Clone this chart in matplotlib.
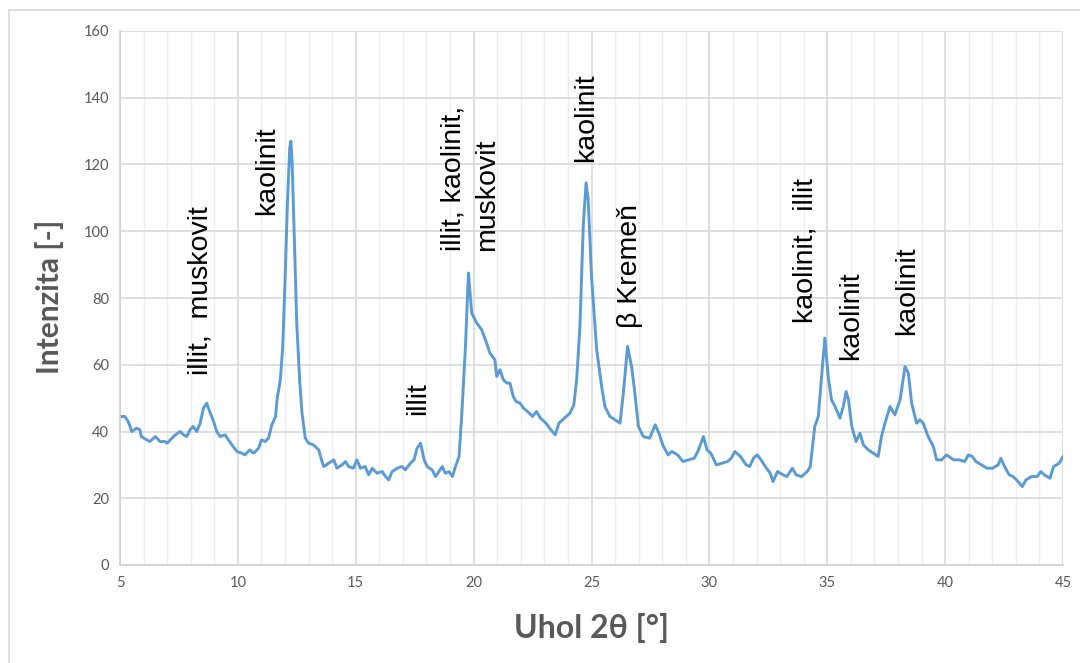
import matplotlib
matplotlib.use("Agg")
import matplotlib.pyplot as plt
from matplotlib.lines import Line2D

# ---- data ----
two_theta = [
    5.0, 5.2, 5.35, 5.5, 5.7, 5.85, 5.9, 6.13, 6.27, 6.5, 6.7, 6.9, 7.0, 7.2, 7.35, 7.55, 7.7, 7.83, 7.97,
    8.1, 8.26, 8.4, 8.54, 8.68, 8.83, 8.97, 9.1, 9.25, 9.46, 9.6, 9.8, 9.96, 10.17, 10.3, 10.5, 10.67,
    10.88, 11.0, 11.16, 11.3, 11.44, 11.6, 11.66, 11.8, 11.9, 12.0, 12.1, 12.2, 12.25, 12.3, 12.4, 12.5,
    12.62, 12.72, 12.86, 13.0, 13.2, 13.43, 13.57, 13.64, 13.85, 14.07, 14.2, 14.42, 14.56, 14.7, 14.9,
    15.05, 15.2, 15.4, 15.55, 15.7, 15.9, 16.12, 16.26, 16.4, 16.54, 16.76, 16.97, 17.1, 17.32, 17.47,
    17.6, 17.75, 17.9, 18.03, 18.24, 18.38, 18.53, 18.67, 18.8, 18.95, 19.1, 19.23, 19.38, 19.5, 19.65,
    19.78, 19.92, 20.13, 20.34, 20.55, 20.69, 20.9, 20.98, 21.12, 21.26, 21.41, 21.54, 21.68, 21.8, 21.97,
    22.12, 22.36, 22.5, 22.67, 22.83, 23.07, 23.22, 23.46, 23.62, 23.85, 24.09, 24.25, 24.37, 24.51, 24.65,
    24.77, 24.86, 25.0, 25.22, 25.43, 25.57, 25.78, 26.0, 26.21, 26.35, 26.53, 26.7, 26.84, 26.99, 27.2,
    27.47, 27.7, 27.86, 28.02, 28.25, 28.41, 28.65, 28.88, 29.12, 29.36, 29.51, 29.75, 29.9, 30.06, 30.3,
    30.53, 30.77, 30.93, 31.08, 31.32, 31.56, 31.71, 31.87, 32.03, 32.19, 32.42, 32.58, 32.7, 32.89, 33.13,
    33.29, 33.52, 33.68, 33.91, 34.15, 34.28, 34.47, 34.62, 34.76, 34.9, 35.04, 35.18, 35.33, 35.54, 35.68,
    35.8, 35.9, 36.04, 36.22, 36.39, 36.53, 36.74, 36.95, 37.16, 37.3, 37.45, 37.66, 37.87, 38.09, 38.3,
    38.44, 38.58, 38.79, 38.93, 39.07, 39.28, 39.5, 39.64, 39.85, 40.06, 40.36, 40.6, 40.83, 40.99, 41.15,
    41.31, 41.54, 41.78, 42.01, 42.25, 42.36, 42.52, 42.72, 42.88, 43.03, 43.27, 43.43, 43.66, 43.9, 44.06,
    44.21, 44.45, 44.6, 44.84, 45.0,
]
intensity = [
    44.5, 44.5, 43, 40, 41, 40.5, 38.5, 37.5, 37, 38.5, 37, 37, 36.5, 38, 39, 40, 39, 38.5, 40.5,
    41.5, 40, 42.5, 47, 48.5, 45.5, 43, 40, 38.5, 39, 37.5, 35.5, 34, 33.5, 33, 34.5, 33.5,
    35, 37.5, 37, 38, 42, 44.5, 49.5, 55.5, 65, 85, 108, 125, 127, 121, 97, 72,
    55.5, 45.5, 38, 36.5, 36, 34.5, 31, 29.5, 30.5, 31.5, 29, 30, 31, 29.5, 29,
    31.5, 29, 29.5, 27, 29, 27.5, 28, 26.5, 25.5, 28, 29, 29.5, 28.5, 30.5, 31.5,
    35, 36.5, 31.5, 29.5, 28.5, 26.5, 28, 29.5, 27.5, 28, 26.5, 29.5, 32.5, 45.5, 65,
    87.5, 75.5, 72.5, 70.5, 66.5, 63.5, 61.5, 56.5, 58.5, 55.5, 54.5, 54.5, 50.5, 49, 48.5,
    47, 45.5, 44.5, 46, 44, 42.5, 41, 39, 42.5, 44, 45.5, 48, 55.5, 71.5, 101.5,
    114.5, 109.5, 86.5, 64.5, 53.5, 47.5, 44.5, 43.5, 42.5, 51.5, 65.5, 59.5, 51.5, 41.5, 38.5,
    38, 42, 39.5, 36, 33, 34, 33, 31, 31.5, 32, 34, 38.5, 34.5, 33.5, 30,
    30.5, 31, 32, 34, 32.5, 30, 29.5, 32, 33, 31.5, 29, 27.5, 25, 28, 27,
    26.5, 29, 27, 26.5, 28, 29.5, 41.5, 44.5, 56.5, 68, 56.5, 49.5, 47.5, 44, 47.5,
    52, 49.5, 41.5, 37, 39.5, 36, 34.5, 33.5, 32.5, 38.5, 42.5, 47.5, 45, 49.5, 59.5,
    57.5, 48.5, 42.5, 43.5, 42.5, 38.5, 35.5, 31.5, 31.5, 33, 31.5, 31.5, 31, 33, 32.5,
    31, 30, 29, 29, 30, 32, 29.5, 27, 26.5, 25.5, 23.5, 25.5, 26.5, 26.5, 28,
    27, 26, 29.5, 30.5, 32.5,
]

peak_labels = ["illit,  muskovit", "kaolinit", "illit", "illit, kaolinit,\nmuskovit",
               "kaolinit", "β Kremeň", "kaolinit,  illit", "kaolinit", "kaolinit"]
label_x = [8.4, 11.24, 17.64, 19.85, 24.77, 26.63, 34.06, 36.0, 38.38]
label_y = [57, 105, 45, 94, 120.7, 71, 72.5, 61.4, 68.9]

x_ticks = [5, 10, 15, 20, 25, 30, 35, 40, 45]
y_ticks = [0, 20, 40, 60, 80, 100, 120, 140, 160]
x_title = "Uhol 2θ [°]"
y_title = "Intenzita [-]"

# ---- figure ----
W, H = 1080, 663
fig = plt.figure(figsize=(W / 100, H / 100), dpi=100)
ax = fig.add_axes([120 / W, 1 - 565 / H, (1063 - 120) / W, (565 - 31) / H])

grey_txt = "#595959"
ax.set_xlim(5, 45)
ax.set_ylim(0, 160)
ax.set_xticks(x_ticks)
ax.set_yticks(y_ticks)
ax.set_xticks(range(5, 46), minor=True)
ax.grid(True, which="major", axis="both", color="#d9d9d9", linewidth=1.2)
ax.grid(True, which="minor", axis="x", color="#eeeeee", linewidth=1.0)
ax.set_axisbelow(True)
for s in ["top", "right"]:
    ax.spines[s].set_visible(False)
for s in ["left", "bottom"]:
    ax.spines[s].set_color("#d0d0d0")
    ax.spines[s].set_linewidth(1.2)
ax.tick_params(which="both", length=0, labelsize=10.5, labelcolor=grey_txt, pad=8)
for lab in ax.get_xticklabels() + ax.get_yticklabels():
    lab.set_fontfamily(["Lato", "DejaVu Sans"])

ax.plot(two_theta, intensity, color="#5B9BD5", linewidth=2.1, solid_joinstyle="round")

for t, x, y in zip(peak_labels, label_x, label_y):
    ax.text(x, y, t, rotation=90, ha="center", va="bottom", multialignment="left",
            fontsize=20.5, family=["Liberation Sans", "DejaVu Sans"], color="black",
            linespacing=1.4)

fig.text(591 / W, 1 - 628 / H, x_title, ha="center", va="center", fontsize=23,
         fontweight="bold", color=grey_txt, family=["Lato", "DejaVu Sans"])
fig.text(50 / W, 1 - 297 / H, y_title, ha="center", va="center", rotation=90, fontsize=21.5,
         fontweight="bold", color=grey_txt, family=["Lato", "DejaVu Sans"])

# chart area border (left and top visible in the reference)
fig.add_artist(Line2D([9 / W, 9 / W], [0, 1 - 10 / H], transform=fig.transFigure,
                      color="#d9d9d9", linewidth=1.2))
fig.add_artist(Line2D([9 / W, 1], [1 - 10 / H, 1 - 10 / H], transform=fig.transFigure,
                      color="#d9d9d9", linewidth=1.2))

fig.savefig("out.png", dpi=100)
